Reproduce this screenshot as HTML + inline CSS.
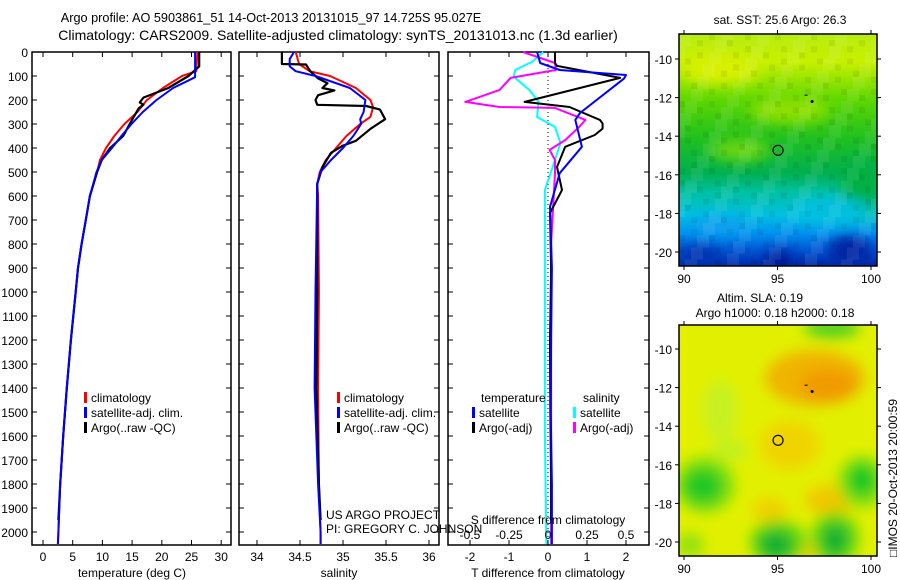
<!DOCTYPE html>
<html><head><meta charset="utf-8"><style>
body{margin:0;background:#fff;}
svg{display:block;font-family:"Liberation Sans",sans-serif;}
</style></head><body>
<svg id="c" width="900" height="580" viewBox="0 0 900 580" xmlns="http://www.w3.org/2000/svg">
<defs>
<linearGradient id="sst" x1="0" y1="0" x2="0" y2="1">
<stop offset="0" stop-color="#b8ec10"/><stop offset="0.12" stop-color="#c8f000"/><stop offset="0.28" stop-color="#60d800"/>
<stop offset="0.45" stop-color="#20c020"/><stop offset="0.6" stop-color="#00b050"/><stop offset="0.68" stop-color="#00c0a0"/>
<stop offset="0.78" stop-color="#00c0e0"/><stop offset="0.86" stop-color="#0090f0"/><stop offset="0.94" stop-color="#0050d0"/><stop offset="1" stop-color="#0028a8"/>
</linearGradient>
<filter id="blur" x="-50%" y="-50%" width="200%" height="200%"><feGaussianBlur stdDeviation="7"/></filter>
<clipPath id="m1"><rect x="679" y="34" width="198" height="232"/></clipPath>
<clipPath id="m2"><rect x="679" y="325" width="198" height="231"/></clipPath>
</defs>
<g id="titles">
<text x="271" y="22" text-anchor="middle" font-size="12.7">Argo profile: AO 5903861_51 14-Oct-2013 20131015_97 14.725S 95.027E</text>
<text x="338" y="40" text-anchor="middle" font-size="14">Climatology: CARS2009. Satellite-adjusted climatology: synTS_20131013.nc (1.3d earlier)</text>
</g>
<g id="panels"></g>
<g id="maps"></g>
</svg>
<script>
// ---- data ----
const tClimDepth=[0,80,100,150,200,250,300,350,400,450,500,600,700,800,900,1000,1100,1200,1400,1600,1800,2000,2050];
const tClimVal=[26.0,25.8,23.4,20.2,17.5,15.9,13.7,12.0,10.6,9.6,9.1,7.9,7.2,6.5,5.9,5.5,5.1,4.7,4.0,3.4,2.9,2.6,2.5];
const tSatDepth=[0,105,150,200,250,300,350,400,450,500,600,700,800,900,1000,1100,1200,1400,1600,1800,2000,2050];
const tSatVal=[25.6,25.6,21.9,19.1,16.8,14.9,13.2,11.6,9.9,9.0,7.9,7.2,6.5,5.9,5.5,5.1,4.7,4.0,3.4,2.9,2.6,2.5];
const tArgoDepth=[0,60,100,150,190,210,220,235,300,350,400,450,500,600,700,800,900,1000,1200,1400,1600,1800,1950];
const tArgoVal=[26.3,26.3,24.5,21.1,16.9,16.3,16.9,16.1,14.6,13.5,11.3,9.9,9.1,7.9,7.2,6.5,5.9,5.5,4.7,4.0,3.4,2.9,2.6];
const sClimDepth=[0,50,80,100,150,200,230,270,300,350,400,450,500,550,600,1000,1400,1800,2000,2050];
const sClimVal=[34.45,34.49,34.61,34.85,35.15,35.32,35.35,35.32,35.2,35.04,34.92,34.8,34.73,34.7,34.71,34.72,34.71,34.72,34.74,34.74];
const sSatDepth=[0,30,60,80,100,150,200,250,280,300,350,400,450,500,550,1000,1400,1800,2000,2050];
const sSatVal=[34.43,34.38,34.38,34.45,34.68,35.08,35.26,35.24,35.2,35.21,35.12,35.0,34.86,34.74,34.7,34.68,34.67,34.71,34.74,34.74];
const sArgoDepth=[0,50,52,80,110,130,150,160,180,200,220,225,240,280,320,370,390,420,480,550,1000,1400,1800,1950];
const sArgoVal=[34.29,34.29,34.57,34.62,34.71,34.82,34.76,34.9,34.71,34.68,34.7,35.27,35.43,35.49,35.32,35.15,35.0,34.86,34.76,34.7,34.7,34.69,34.72,34.74];
const dTArgoDepth=[0,46,58,108,208,229,283,298,319,346,395,479,575,671,900,1200,1500,1800,1950];
const dTArgoVal=[0.18,0.18,0.23,1.85,-0.6,0.55,1.33,1.4,1.4,1.2,0.44,0.23,0.36,0.05,0.08,0.05,0.06,0.08,0.08];
const dTSatDepth=[0,46,75,96,111,254,283,395,505,645,900,1200,1500,1800,2050];
const dTSatVal=[-0.28,-0.2,0.3,2.0,1.95,0.82,0.7,0.87,0.3,0.05,0.1,0.08,0.07,0.1,0.1];
const dSSatDepth=[0,40,75,103,158,208,271,312,379,479,575,800,1200,1600,2050];
const dSSatVal=[-0.03,-0.1,-0.21,-0.22,-0.12,-0.06,-0.07,0.045,0.08,0.03,-0.02,-0.02,-0.02,-0.02,-0.01];
const dSArgoDepth=[0,46,75,108,158,208,229,233,283,312,367,408,450,505,800,1200,1600,2050];
const dSArgoVal=[-0.16,0.045,0.05,-0.24,-0.31,-0.53,-0.31,0.045,0.24,0.2,0.11,0.01,0.045,0.045,0.02,0.02,0.02,0.02];
const depthTicks=[0,100,200,300,400,500,600,700,800,900,1000,1100,1200,1300,1400,1500,1600,1700,1800,1900,2000];
const tTicks=[0,5,10,15,20,25,30];
const sTicks=[34,34.5,35,35.5,36];
const sTickLabels=["34","34.5","35","35.5","36"];
const dTTicks=[-2,-1,0,1,2];
const dSTicks=[-0.5,-0.25,0,0.25,0.5];
const dSTickLabels=["-0.5","-0.25","0","0.25","0.5"];
const lonTicks=[90,95,100];
const latTicks=[-10,-12,-14,-16,-18,-20];

const NS="http://www.w3.org/2000/svg";
function mk(tag,attrs,parent,txt){const e=document.createElementNS(NS,tag);for(const k in attrs)e.setAttribute(k,attrs[k]);if(txt!==undefined)e.textContent=txt;parent.appendChild(e);return e;}
const yD=d=>52+0.24*d;
const xT=t=>43+5.94*t;
const xS=s=>300+86*(s-34.5);
const xdT=v=>548+39*v;
const xdS=v=>548+156*v;
const P=document.getElementById('panels');
const PT=545;
function frame(x0,x1,name,xticks,xf){
  const r=mk('rect',{x:x0,y:52,width:x1-x0,height:PT-52,fill:'none',stroke:'#000','stroke-width':1.5},P);
  
  
  depthTicks.forEach(d=>{mk('line',{x1:x0,x2:x0+5,y1:yD(d),y2:yD(d),stroke:'#000'},P);mk('line',{x1:x1,x2:x1-5,y1:yD(d),y2:yD(d),stroke:'#000'},P);});
  xticks.forEach(v=>{mk('line',{x1:xf(v),x2:xf(v),y1:52,y2:57,stroke:'#000'},P);mk('line',{x1:xf(v),x2:xf(v),y1:PT,y2:PT-5,stroke:'#000'},P);});
}
function line(ds,vs,xf,col,name,w){
  const pts=ds.map((d,i)=>xf(vs[i]).toFixed(1)+','+yD(d).toFixed(1)).join(' ');
  const e=mk('polyline',{points:pts,fill:'none',stroke:col,'stroke-width':w||2,'stroke-linejoin':'round'},P);
  
  
}
function txt(x,y,s,name,anchor,size,parent){
  const e=mk('text',{x:x,y:y,'font-size':size||12,'text-anchor':anchor||'start'},parent||P,s);
  
  
  return e;
}
function legend(x,y,col,s,name){
  const b=mk('rect',{x:x,y:y-10,width:3,height:11,fill:col},P);
  
  
  txt(x+7,y,s,name);
}
// panel 1
frame(32,231,'temperature-panel',tTicks,xT);
depthTicks.forEach(d=>txt(28,yD(d)+5,String(d),'depth-tick-label','end',12));
tTicks.forEach(v=>txt(xT(v),561,String(v),'temperature-tick-label','middle'));
txt(132,577,'temperature (deg C)','temperature-axis-title','middle');
line(tClimDepth,tClimVal,xT,'#f00','temperature-climatology-line');
line(tArgoDepth,tArgoVal,xT,'#000','temperature-argo-line',2.2);
line(tSatDepth,tSatVal,xT,'#00f','temperature-satellite-line');
legend(84,402,'#f00','climatology','legend-climatology');
legend(84,417,'#00f','satellite-adj. clim.','legend-satellite');
legend(84,432,'#000','Argo(..raw -QC)','legend-argo');
// panel 2
frame(239,439,'salinity-panel',sTicks,xS);
sTicks.forEach((v,i)=>txt(xS(v),561,sTickLabels[i],'salinity-tick-label','middle'));
txt(339,577,'salinity','salinity-axis-title','middle');
line(sClimDepth,sClimVal,xS,'#f00','salinity-climatology-line');
line(sArgoDepth,sArgoVal,xS,'#000','salinity-argo-line',2.2);
line(sSatDepth,sSatVal,xS,'#00f','salinity-satellite-line');
legend(337,402,'#f00','climatology','legend-s-climatology');
legend(337,417,'#00f','satellite-adj. clim.','legend-s-satellite');
legend(337,432,'#000','Argo(..raw -QC)','legend-s-argo');
txt(326,519,'US ARGO PROJECT','credit-project');
txt(326,533,'PI: GREGORY C. JOHNSON','credit-pi');
// panel 3
frame(448,649,'difference-panel',dTTicks,xdT);
mk('line',{x1:548,x2:548,y1:52,y2:PT,stroke:'#000','stroke-dasharray':'1,3'},P);
line(dSSatDepth,dSSatVal,xdS,'#0ff','salinity-satellite-diff-line');
line(dSArgoDepth,dSArgoVal,xdS,'#f0f','salinity-argo-diff-line');
line(dTArgoDepth,dTArgoVal,xdT,'#000','temperature-argo-diff-line');
line(dTSatDepth,dTSatVal,xdT,'#00f','temperature-satellite-diff-line');
txt(481,402,'temperature','legend-temperature-header');
txt(583,402,'salinity','legend-salinity-header');
legend(472,417,'#00f','satellite','legend-t-satellite');
legend(472,432,'#000','Argo(-adj)','legend-t-argo');
legend(573,417,'#0ff','satellite','legend-s-satellite-diff');
legend(573,432,'#f0f','Argo(-adj)','legend-s-argo-diff');
txt(548,524,'S difference from climatology','s-diff-axis-title','middle');
dSTicks.forEach((v,i)=>txt(xdS(v),539,dSTickLabels[i],'s-diff-tick-label','middle'));
dTTicks.forEach(v=>txt(xdT(v),561,String(v),'t-diff-tick-label','middle'));
txt(548,577,'T difference from climatology','t-diff-axis-title','middle');

// ---- maps ----
const M=document.getElementById('maps');
function mapAxes(y0,y1,latTop,latScale,name){
  const lonX=l=>684+18.7*(l-90);
  const latY=l=>latTop+latScale*(-10-l);
  const r=mk('rect',{x:679,y:y0,width:198,height:y1-y0,fill:'none',stroke:'#000','stroke-width':1.5},M);
  
  
  lonTicks.forEach(l=>{mk('line',{x1:lonX(l),x2:lonX(l),y1:y1,y2:y1+4,stroke:'#000'},M);mk('line',{x1:lonX(l),x2:lonX(l),y1:y0,y2:y0-4,stroke:'#000'},M);txt(lonX(l),y1+17,String(l),name+'-lon-label','middle',12,M);});
  latTicks.forEach(l=>{mk('line',{x1:679,x2:675,y1:latY(l),y2:latY(l),stroke:'#000'},M);mk('line',{x1:877,x2:881,y1:latY(l),y2:latY(l),stroke:'#000'},M);txt(672,latY(l)+5,String(l),name+'-lat-label','end',12,M);});
  const c=mk('circle',{cx:lonX(95.03),cy:latY(-14.73),r:5,fill:'none',stroke:'#000','stroke-width':1.2},M);
  
  
  mk('circle',{cx:lonX(96.85),cy:latY(-12.2),r:1.5,fill:'#000'},M);
  mk('rect',{x:lonX(96.5)-1,y:latY(-11.85),width:3,height:1,fill:'#000'},M);
}
// SST map
const g1=mk('g',{'clip-path':'url(#m1)'},M);


mk('rect',{x:679,y:34,width:198,height:232,fill:'url(#sst)'},g1);
const gb=mk('g',{filter:'url(#blur)'},g1);
[[720,70,40,14,'#d8f000'],[790,110,40,12,'#90e000'],[740,150,30,10,'#70d810'],[860,190,20,30,'#00b040'],[830,210,40,12,'#00c0e0'],[780,260,14,8,'#001890'],[850,250,22,14,'#0020a0'],[700,255,20,10,'#0030b0'],[720,225,30,8,'#10a0f0']].forEach(b=>mk('ellipse',{cx:b[0],cy:b[1],rx:b[2],ry:b[3],fill:b[4]},gb));
for(let i=0;i<33;i++)for(let j=0;j<38;j++){
  if(((i*7919+j*104729)%13)<4){mk('rect',{x:679+i*6,y:34+j*6.1,width:6,height:6.1,fill:'#fff',opacity:0.08},g1);}
  else if(((i*31+j*17)%11)<2){mk('rect',{x:679+i*6,y:34+j*6.1,width:6,height:6.1,fill:'#000',opacity:0.06},g1);}
}
mapAxes(34,266,59,19.3,'sst-map');
txt(780,24,'sat. SST: 25.6 Argo: 26.3','sst-map-title','middle',12,M);
// SLA map
const g2=mk('g',{'clip-path':'url(#m2)'},M);


mk('rect',{x:679,y:325,width:198,height:231,fill:'#e2f000'},g2);
const gb2=mk('g',{filter:'url(#blur)'},g2);
[[815,378,50,28,'#f0b400'],[828,385,28,16,'#f09a00'],[790,445,30,25,'#f0d400'],[830,500,25,15,'#f0c800'],[770,510,18,12,'#f0d000'],[800,550,16,8,'#f0c000'],
 [705,485,30,28,'#80e010'],[703,486,20,18,'#20c820'],[862,482,24,26,'#80e010'],[862,480,14,16,'#10c820'],
 [778,542,28,22,'#60d810'],[776,545,17,14,'#10b030'],[835,538,24,26,'#60d810'],[835,540,13,16,'#10b030'],[832,328,28,10,'#50d020'],
 [720,410,18,30,'#c8f020'],[730,450,18,10,'#c0f020'],[690,545,14,12,'#90e010']].forEach(b=>mk('ellipse',{cx:b[0],cy:b[1],rx:b[2],ry:b[3],fill:b[4]},gb2));
mapAxes(325,556,349,19.3,'sla-map');
txt(760,302,'Altim. SLA: 0.19','sla-map-title','middle',12,M);
txt(775,317,'Argo h1000: 0.18 h2000: 0.18','sla-map-subtitle','middle',12,M);
const rt=txt(0,0,'\u25a1IMOS 20-Oct-2013 20:00:59','timestamp','start',12,M);
rt.setAttribute('transform','translate(897,557) rotate(-90)');
</script>
</body></html>
